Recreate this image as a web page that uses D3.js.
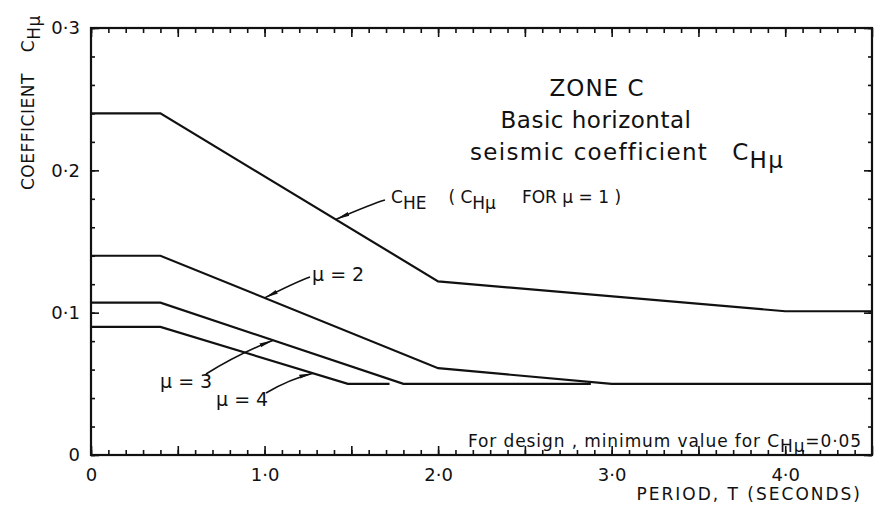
<!DOCTYPE html>
<html>
<head>
<meta charset="utf-8">
<script src="https://cdn.jsdelivr.net/npm/d3@7"></script>
<style>
  body { margin: 0; background: #fff; }
  svg { display: block; }
  text { font-family: "DejaVu Sans", sans-serif; fill: #111; }
</style>
</head>
<body>
<svg id="chart" width="894" height="510"></svg>
<script>
// period T (s) and coefficient C_Hmu
var cheT = [0, 0.4, 2.0, 4.0, 4.5];
var cheC = [0.24, 0.24, 0.122, 0.101, 0.101];
var mu2T = [0, 0.4, 2.0, 3.0, 4.5];
var mu2C = [0.14, 0.14, 0.061, 0.05, 0.05];
var mu3T = [0, 0.4, 1.8, 2.88];
var mu3C = [0.107, 0.107, 0.05, 0.05];
var mu4T = [0, 0.4, 1.48, 1.72];
var mu4C = [0.09, 0.09, 0.05, 0.05];

var periodTicks = [0, 1, 2, 3, 4];
var periodLabels = ["0", "1·0", "2·0", "3·0", "4·0"];
var coefTicks = [0, 0.1, 0.2, 0.3];
var coefLabels = ["0", "0·1", "0·2", "0·3"];

var margin = {top: 28, right: 22, bottom: 55, left: 91};
var width = 894 - margin.left - margin.right;
var height = 510 - margin.top - margin.bottom;

var svg = d3.select("#chart");
var g = svg.append("g").attr("transform", "translate(" + margin.left + "," + margin.top + ")");

var x = d3.scaleLinear().domain([0, 4.5]).range([0, width]);
var y = d3.scaleLinear().domain([0, 0.3]).range([height, 0]);

function zip(ts, cs) { return ts.map(function(t, i) { return [t, cs[i]]; }); }
var series = [zip(cheT, cheC), zip(mu2T, mu2C), zip(mu3T, mu3C), zip(mu4T, mu4C)];

// ticks, all pointing inward
var minorX = d3.range(0, 45).map(function(i) { return i / 10; });
var halfX = d3.range(0, 10).map(function(i) { return i / 2; });
var minorY = d3.range(0, 16).map(function(i) { return i / 50; });

function tickAxis(axis, vals, size) {
  return axis.tickValues(vals).tickSize(-size).tickFormat("");
}
function styleTicks(sel) {
  sel.select(".domain").remove();
  sel.selectAll("line").attr("stroke", "#111").attr("stroke-width", 1.6);
}
g.append("g").attr("transform", "translate(0," + height + ")").call(tickAxis(d3.axisBottom(x), minorX, 5)).call(styleTicks);
g.append("g").attr("transform", "translate(0," + height + ")").call(tickAxis(d3.axisBottom(x), halfX, 9)).call(styleTicks);
g.append("g").call(tickAxis(d3.axisTop(x), minorX, 5)).call(styleTicks);
g.append("g").call(tickAxis(d3.axisTop(x), halfX, 9)).call(styleTicks);
g.append("g").call(tickAxis(d3.axisLeft(y), minorY, 4)).call(styleTicks);
g.append("g").call(tickAxis(d3.axisLeft(y), coefTicks, 8)).call(styleTicks);
g.append("g").attr("transform", "translate(" + width + ",0)").call(tickAxis(d3.axisRight(y), minorY, 4)).call(styleTicks);
g.append("g").attr("transform", "translate(" + width + ",0)").call(tickAxis(d3.axisRight(y), coefTicks, 8)).call(styleTicks);

// tick labels
var xl = g.append("g").attr("transform", "translate(0," + height + ")")
  .call(d3.axisBottom(x).tickValues(periodTicks).tickSize(0).tickPadding(13)
    .tickFormat(function(d, i) { return periodLabels[i]; }));
xl.select(".domain").remove();
xl.selectAll("text").style("font-size", "18px").attr("font-family", null);

var yl = g.append("g")
  .call(d3.axisLeft(y).tickValues(coefTicks).tickSize(0).tickPadding(11)
    .tickFormat(function(d, i) { return coefLabels[i]; }));
yl.select(".domain").remove();
yl.selectAll("text").style("font-size", "18px").attr("font-family", null);

// frame
g.append("rect").attr("width", width).attr("height", height)
  .attr("fill", "none").attr("stroke", "#111").attr("stroke-width", 2.2);

// curves
var line = d3.line().x(function(d) { return x(d[0]); }).y(function(d) { return y(d[1]); });
g.selectAll(".curve").data(series).enter().append("path")
  .attr("class", "curve")
  .attr("d", line)
  .attr("fill", "none")
  .attr("stroke", "#111")
  .attr("stroke-width", 2.2);

// arrow leaders
svg.append("defs").append("marker")
  .attr("id", "arr").attr("viewBox", "0 0 14 6").attr("refX", 14).attr("refY", 3)
  .attr("markerWidth", 14).attr("markerHeight", 6).attr("markerUnits", "userSpaceOnUse")
  .attr("orient", "auto")
  .append("path").attr("d", "M0,1 L14,3 L0,5 Z").attr("fill", "#111");

function valueAt(s, t) {
  for (var i = 1; i < s.length; i++) {
    if (t <= s[i][0]) {
      var f = (t - s[i - 1][0]) / (s[i][0] - s[i - 1][0]);
      return s[i - 1][1] + f * (s[i][1] - s[i - 1][1]);
    }
  }
  return s[s.length - 1][1];
}
var leaders = [
  {s: 0, t: 1.41, from: [294, 172], bend: [12, 2]},
  {s: 1, t: 1.0, from: [219, 249], bend: [10, 2]},
  {s: 2, t: 1.05, from: [115, 346], bend: [0, 0]},
  {s: 3, t: 1.28, from: [175, 365], bend: [0, 0]}
];
leaders.forEach(function(l) {
  var tx = x(l.t), ty = y(valueAt(series[l.s], l.t));
  var cx = (l.from[0] + tx) / 2 + l.bend[0], cy = (l.from[1] + ty) / 2 - l.bend[1] - 4;
  g.append("path")
    .attr("d", "M" + l.from[0] + "," + l.from[1] + " Q" + cx + "," + cy + " " + tx + "," + ty)
    .attr("fill", "none").attr("stroke", "#111").attr("stroke-width", 1.6)
    .attr("marker-end", "url(#arr)");
});

// labels
var che = svg.append("text").attr("x", 391).attr("y", 203).style("font-size", "17px");
che.append("tspan").text("C");
che.append("tspan").attr("dy", 6).text("HE");
che.append("tspan").attr("dy", -6).attr("dx", 22).text("( C");
che.append("tspan").attr("dy", 6).text("Hμ");
che.append("tspan").attr("dy", -6).attr("dx", 26).text("FOR μ = 1 )");

svg.append("text").attr("x", 312).attr("y", 281).style("font-size", "19px").text("μ = 2");
svg.append("text").attr("x", 160).attr("y", 388).style("font-size", "19px").text("μ = 3");
svg.append("text").attr("x", 216).attr("y", 406).style("font-size", "19px").text("μ = 4");

svg.append("text").attr("x", 597).attr("y", 96).attr("text-anchor", "middle").style("font-size", "23px").style("letter-spacing", "1px").text("ZONE C");
svg.append("text").attr("x", 596).attr("y", 128).attr("text-anchor", "middle").style("font-size", "23px").style("letter-spacing", "0.5px").text("Basic horizontal");
var sc = svg.append("text").attr("x", 470).attr("y", 160).style("font-size", "23px").style("letter-spacing", "1.3px");
sc.append("tspan").text("seismic coefficient");
sc.append("tspan").attr("dx", 24).text("C");
sc.append("tspan").attr("dy", 8).text("Hμ");

var fd = svg.append("text").attr("x", 468).attr("y", 447).style("font-size", "17px").style("letter-spacing", "0.9px");
fd.append("tspan").text("For design , minimum value for C");
fd.append("tspan").attr("dy", 5).text("Hμ");
fd.append("tspan").attr("dy", -5).text("=0·05");

svg.append("text").attr("x", 862).attr("y", 500).attr("text-anchor", "end").style("font-size", "17px").style("letter-spacing", "2px").text("PERIOD, T (SECONDS)");

var yt = svg.append("text").attr("transform", "translate(34,190) rotate(-90)").style("font-size", "17px").style("letter-spacing", "0.5px");
yt.append("tspan").text("COEFFICIENT");
yt.append("tspan").attr("dx", 22).text("C");
yt.append("tspan").attr("dy", 6).text("Hμ");
</script>
</body>
</html>
